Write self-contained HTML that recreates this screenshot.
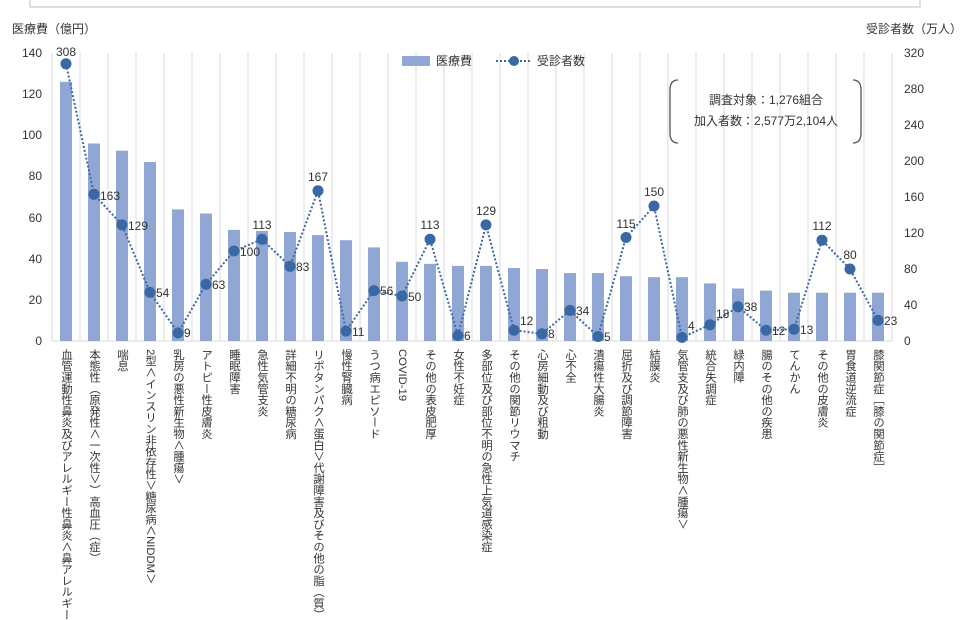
<!DOCTYPE html>
<html><head><meta charset="utf-8"><style>
body{margin:0;background:#fff;width:960px;height:600px;overflow:hidden;position:relative;font-family:"Liberation Sans","Noto Sans CJK JP",sans-serif;color:#333}
svg{position:absolute;left:0;top:0}
svg text{font-family:"Liberation Sans","Noto Sans CJK JP",sans-serif;fill:#333}
.v{position:absolute;top:349px;writing-mode:vertical-rl;font-size:11.3px;line-height:14px;width:14px;white-space:nowrap;color:#333;letter-spacing:0}
</style></head><body>
<svg width="960" height="600">
<rect x="30" y="-2" width="890" height="9" fill="none" stroke="#bfbfbf" stroke-width="1"/>
<g stroke="#d9d9d9" stroke-width="1">
<line x1="52" y1="53" x2="52" y2="341"/><line x1="80" y1="53" x2="80" y2="341"/><line x1="108" y1="53" x2="108" y2="341"/><line x1="136" y1="53" x2="136" y2="341"/><line x1="164" y1="53" x2="164" y2="341"/><line x1="192" y1="53" x2="192" y2="341"/><line x1="220" y1="53" x2="220" y2="341"/><line x1="248" y1="53" x2="248" y2="341"/><line x1="276" y1="53" x2="276" y2="341"/><line x1="304" y1="53" x2="304" y2="341"/><line x1="332" y1="53" x2="332" y2="341"/><line x1="360" y1="53" x2="360" y2="341"/><line x1="388" y1="53" x2="388" y2="341"/><line x1="416" y1="53" x2="416" y2="341"/><line x1="444" y1="53" x2="444" y2="341"/><line x1="472" y1="53" x2="472" y2="341"/><line x1="500" y1="53" x2="500" y2="341"/><line x1="528" y1="53" x2="528" y2="341"/><line x1="556" y1="53" x2="556" y2="341"/><line x1="584" y1="53" x2="584" y2="341"/><line x1="612" y1="53" x2="612" y2="341"/><line x1="640" y1="53" x2="640" y2="341"/><line x1="668" y1="53" x2="668" y2="341"/><line x1="696" y1="53" x2="696" y2="341"/><line x1="724" y1="53" x2="724" y2="341"/><line x1="752" y1="53" x2="752" y2="341"/><line x1="780" y1="53" x2="780" y2="341"/><line x1="808" y1="53" x2="808" y2="341"/><line x1="836" y1="53" x2="836" y2="341"/><line x1="864" y1="53" x2="864" y2="341"/><line x1="892" y1="53" x2="892" y2="341"/>
<line x1="52" y1="341" x2="892" y2="341"/>
</g>
<text x="12" y="33" font-size="12">医療費（億円）</text>
<text x="866" y="33" font-size="12">受診者数（万人）</text>
<g font-size="12" text-anchor="end">
<text x="42" y="57">140</text><text x="42" y="98">120</text><text x="42" y="139">100</text><text x="42" y="180">80</text><text x="42" y="222">60</text><text x="42" y="263">40</text><text x="42" y="304">20</text><text x="42" y="345">0</text>
</g>
<g font-size="12" text-anchor="start">
<text x="904" y="57">320</text><text x="904" y="93">280</text><text x="904" y="129">240</text><text x="904" y="165">200</text><text x="904" y="201">160</text><text x="904" y="237">120</text><text x="904" y="273">80</text><text x="904" y="309">40</text><text x="904" y="345">0</text>
</g>
<g fill="#8fa7d2">
<rect x="60" y="81.8" width="12" height="259.2"/><rect x="88" y="143.5" width="12" height="197.5"/><rect x="116" y="150.7" width="12" height="190.3"/><rect x="144" y="162" width="12" height="179"/><rect x="172" y="209.4" width="12" height="131.6"/><rect x="200" y="213.5" width="12" height="127.5"/><rect x="228" y="229.9" width="12" height="111.1"/><rect x="256" y="231" width="12" height="110"/><rect x="284" y="232" width="12" height="109"/><rect x="312" y="235.1" width="12" height="105.9"/><rect x="340" y="240.2" width="12" height="100.8"/><rect x="368" y="247.4" width="12" height="93.6"/><rect x="396" y="261.8" width="12" height="79.2"/><rect x="424" y="263.9" width="12" height="77.1"/><rect x="452" y="265.9" width="12" height="75.1"/><rect x="480" y="265.9" width="12" height="75.1"/><rect x="508" y="268" width="12" height="73"/><rect x="536" y="269" width="12" height="72"/><rect x="564" y="273.1" width="12" height="67.9"/><rect x="592" y="273.1" width="12" height="67.9"/><rect x="620" y="276.2" width="12" height="64.8"/><rect x="648" y="277.2" width="12" height="63.8"/><rect x="676" y="277.2" width="12" height="63.8"/><rect x="704" y="283.4" width="12" height="57.6"/><rect x="732" y="288.5" width="12" height="52.5"/><rect x="760" y="290.6" width="12" height="50.4"/><rect x="788" y="292.7" width="12" height="48.3"/><rect x="816" y="292.7" width="12" height="48.3"/><rect x="844" y="292.7" width="12" height="48.3"/><rect x="872" y="292.7" width="12" height="48.3"/>
</g>
<polyline fill="none" stroke="#3a68a5" stroke-width="2" stroke-dasharray="2,2" points="66,63.8 94,194.3 122,224.9 150,292.4 178,332.9 206,284.3 234,251 262,239.3 290,266.3 318,190.7 346,331.1 374,290.6 402,296 430,239.3 458,335.6 486,224.9 514,330.2 542,333.8 570,310.4 598,336.5 626,237.5 654,206 682,337.4 710,324.8 738,306.8 766,330.2 794,329.3 822,240.2 850,269 878,320.3"/>
<g fill="#3a68a5">
<circle cx="66" cy="63.8" r="5.5"/><circle cx="94" cy="194.3" r="5.5"/><circle cx="122" cy="224.9" r="5.5"/><circle cx="150" cy="292.4" r="5.5"/><circle cx="178" cy="332.9" r="5.5"/><circle cx="206" cy="284.3" r="5.5"/><circle cx="234" cy="251" r="5.5"/><circle cx="262" cy="239.3" r="5.5"/><circle cx="290" cy="266.3" r="5.5"/><circle cx="318" cy="190.7" r="5.5"/><circle cx="346" cy="331.1" r="5.5"/><circle cx="374" cy="290.6" r="5.5"/><circle cx="402" cy="296" r="5.5"/><circle cx="430" cy="239.3" r="5.5"/><circle cx="458" cy="335.6" r="5.5"/><circle cx="486" cy="224.9" r="5.5"/><circle cx="514" cy="330.2" r="5.5"/><circle cx="542" cy="333.8" r="5.5"/><circle cx="570" cy="310.4" r="5.5"/><circle cx="598" cy="336.5" r="5.5"/><circle cx="626" cy="237.5" r="5.5"/><circle cx="654" cy="206" r="5.5"/><circle cx="682" cy="337.4" r="5.5"/><circle cx="710" cy="324.8" r="5.5"/><circle cx="738" cy="306.8" r="5.5"/><circle cx="766" cy="330.2" r="5.5"/><circle cx="794" cy="329.3" r="5.5"/><circle cx="822" cy="240.2" r="5.5"/><circle cx="850" cy="269" r="5.5"/><circle cx="878" cy="320.3" r="5.5"/>
</g>
<g font-size="12">
<text x="66" y="56" text-anchor="middle">308</text>
<text x="100" y="200">163</text><text x="128" y="230">129</text><text x="156" y="297">54</text><text x="184" y="337">9</text><text x="212" y="289">63</text><text x="240" y="256">100</text>
<text x="262" y="229" text-anchor="middle">113</text>
<text x="296" y="271">83</text>
<text x="318" y="181" text-anchor="middle">167</text>
<text x="352" y="336">11</text><text x="380" y="295">56</text><text x="408" y="301">50</text>
<text x="430" y="229" text-anchor="middle">113</text>
<text x="464" y="340">6</text>
<text x="486" y="215" text-anchor="middle">129</text>
<text x="520" y="325">12</text><text x="548" y="338">8</text><text x="576" y="315">34</text><text x="604" y="341">5</text>
<text x="626" y="228" text-anchor="middle">115</text>
<text x="654" y="196" text-anchor="middle">150</text>
<text x="688" y="330">4</text><text x="716" y="318">18</text><text x="744" y="311">38</text><text x="772" y="335">12</text><text x="800" y="334">13</text>
<text x="822" y="230" text-anchor="middle">112</text>
<text x="850" y="259" text-anchor="middle">80</text>
<text x="884" y="325">23</text>
</g>
<rect x="402" y="56" width="28" height="10" fill="#8fa7d2"/>
<text x="436" y="65" font-size="12">医療費</text>
<line x1="496" y1="61" x2="532" y2="61" stroke="#3a68a5" stroke-width="2" stroke-dasharray="2,2"/>
<circle cx="514" cy="61" r="5" fill="#3a68a5"/>
<text x="537" y="65" font-size="12">受診者数</text>
<path d="M678,80 Q670,80 670,90 L670,133 Q670,143 678,143" fill="none" stroke="#555" stroke-width="1.3"/>
<path d="M853,80 Q861,80 861,90 L861,133 Q861,143 853,143" fill="none" stroke="#555" stroke-width="1.3"/>
<text x="766" y="104" font-size="12" text-anchor="middle">調査対象：1,276組合</text>
<text x="766" y="125" font-size="12" text-anchor="middle">加入者数：2,577万2,104人</text>
</svg>
<div class="v" style="left:59px">血管運動性鼻炎及びアレルギー性鼻炎＜鼻アレルギー</div>
<div class="v" style="left:87px">本態性（原発性＜一次性＞）高血圧（症）</div>
<div class="v" style="left:115px">喘息</div>
<div class="v" style="left:143px">2型＜インスリン非依存性＞糖尿病＜NIDDM＞</div>
<div class="v" style="left:171px">乳房の悪性新生物＜腫瘍＞</div>
<div class="v" style="left:199px">アトピー性皮膚炎</div>
<div class="v" style="left:227px">睡眠障害</div>
<div class="v" style="left:255px">急性気管支炎</div>
<div class="v" style="left:283px">詳細不明の糖尿病</div>
<div class="v" style="left:311px">リポタンパク＜蛋白＞代謝障害及びその他の脂（質）</div>
<div class="v" style="left:339px">慢性腎臓病</div>
<div class="v" style="left:367px">うつ病エピソード</div>
<div class="v" style="left:395px">COVID-19</div>
<div class="v" style="left:423px">その他の表皮肥厚</div>
<div class="v" style="left:451px">女性不妊症</div>
<div class="v" style="left:479px">多部位及び部位不明の急性上気道感染症</div>
<div class="v" style="left:507px">その他の関節リウマチ</div>
<div class="v" style="left:535px">心房細動及び粗動</div>
<div class="v" style="left:563px">心不全</div>
<div class="v" style="left:591px">潰瘍性大腸炎</div>
<div class="v" style="left:619px">屈折及び調節障害</div>
<div class="v" style="left:647px">結膜炎</div>
<div class="v" style="left:675px">気管支及び肺の悪性新生物＜腫瘍＞</div>
<div class="v" style="left:703px">統合失調症</div>
<div class="v" style="left:731px">緑内障</div>
<div class="v" style="left:759px">腸のその他の疾患</div>
<div class="v" style="left:787px">てんかん</div>
<div class="v" style="left:815px">その他の皮膚炎</div>
<div class="v" style="left:843px">胃食道逆流症</div>
<div class="v" style="left:871px">膝関節症［膝の関節症］</div>
</body></html>
